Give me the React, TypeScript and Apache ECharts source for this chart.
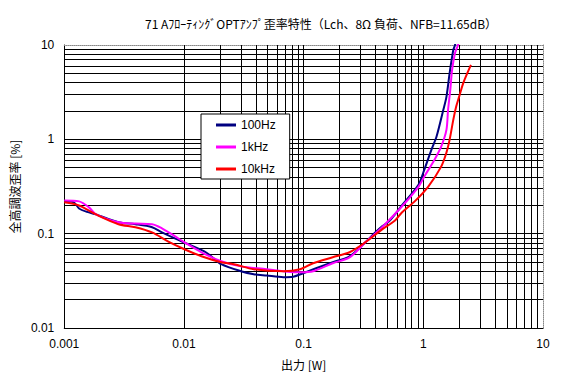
import React, { useEffect, useRef } from "react";
import * as echarts from "echarts";

const chartTitle = "71 AﾌﾛｰﾃｨﾝｸﾞOPTｱﾝﾌﾟ歪率特性（Lch、8Ω 負荷、NFB=11.65dB）";
const xName = "出力 [W]";
const yName = "全高調波歪率 [%]";
const seriesNames = ["100Hz", "1kHz", "10kHz"];
const seriesColors = ["#000080", "#FF00FF", "#FF0000"];

const power100 = [0.001, 0.0012, 0.00133, 0.00155, 0.00184, 0.00284, 0.00393, 0.00542, 0.00655, 0.00839, 0.0107, 0.0148, 0.0169, 0.0205, 0.0299, 0.0383, 0.0491, 0.0677, 0.0819, 0.099, 0.127, 0.175, 0.242, 0.328, 0.396, 0.453, 0.517, 0.662, 0.914, 1.0, 1.17, 1.29, 1.47, 1.56, 1.66, 1.78, 1.84, 1.87];
const thd100 = [0.22, 0.215, 0.185, 0.17, 0.16, 0.132, 0.126, 0.117, 0.103, 0.089, 0.078, 0.065, 0.0576, 0.0475, 0.04, 0.0372, 0.036, 0.0346, 0.035, 0.0381, 0.043, 0.0498, 0.0576, 0.0809, 0.103, 0.12, 0.135, 0.199, 0.332, 0.445, 0.778, 1.07, 2.06, 2.82, 5.06, 8.86, 10, 11];

const power1k = [0.001, 0.00133, 0.00161, 0.00184, 0.00284, 0.00393, 0.00542, 0.00655, 0.00839, 0.0101, 0.014, 0.0205, 0.0299, 0.0491, 0.0677, 0.0819, 0.0935, 0.12, 0.175, 0.242, 0.328, 0.396, 0.453, 0.662, 0.914, 1.02, 1.24, 1.41, 1.56, 1.61, 1.68, 1.74, 1.84, 1.95, 1.98];
const thd1k = [0.225, 0.22, 0.19, 0.16, 0.132, 0.128, 0.126, 0.114, 0.094, 0.081, 0.0635, 0.051, 0.045, 0.042, 0.04, 0.039, 0.039, 0.04, 0.0486, 0.056, 0.081, 0.1, 0.117, 0.194, 0.316, 0.404, 0.609, 0.838, 1.26, 2.06, 3.35, 5.45, 8.23, 10, 11];

const power10k = [0.001, 0.00133, 0.00184, 0.00284, 0.00393, 0.00542, 0.00734, 0.0101, 0.014, 0.0205, 0.0262, 0.0383, 0.0677, 0.0935, 0.12, 0.175, 0.242, 0.328, 0.453, 0.58, 0.662, 0.847, 1.1, 1.41, 1.56, 1.66, 1.78, 1.88, 1.99, 2.16, 2.5];
const thd10k = [0.215, 0.199, 0.16, 0.126, 0.117, 0.103, 0.083, 0.0684, 0.0576, 0.0498, 0.0475, 0.042, 0.04, 0.042, 0.0486, 0.0562, 0.0635, 0.081, 0.111, 0.138, 0.168, 0.22, 0.316, 0.514, 0.723, 0.993, 1.61, 2.21, 2.82, 3.97, 6.15];

const xDecades = [0.001, 0.01, 0.1, 1];
const yDecades = [0.01, 0.1, 1];
const gridSteps = [1, 2, 3, 4, 5, 6, 7, 8, 9];

const xMin = 0.001, xMax = 10, yMin = 0.01, yMax = 10;

function gridValues(decades: number[], min: number) {
  const out: number[] = [];
  decades.forEach((d) => gridSteps.forEach((m) => {
    const v = Number((d * m).toPrecision(3));
    if (v > min) out.push(v);
  }));
  return out;
}

const fmt = (v: number) => String(Number(Number(v).toPrecision(3)));

export default function App() {
  const ref = useRef<HTMLDivElement>(null);
  useEffect(() => {
    if (!ref.current) return;
    const chart = echarts.init(ref.current, undefined, { renderer: "svg" });
    const xs = gridValues(xDecades, xMin);
    const ys = gridValues(yDecades, yMin);
    const pairs = [
      [power100, thd100],
      [power1k, thd1k],
      [power10k, thd10k],
    ];
    const latin = "Liberation Sans";
    const cjk = "'Noto Sans CJK JP', sans-serif";
    chart.setOption({
      animation: false,
      backgroundColor: "#ffffff",
      title: {
        text: chartTitle,
        left: 140,
        top: 12,
        textStyle: { fontSize: 12, fontWeight: "normal", color: "#000", fontFamily: cjk },
      },
      legend: {
        orient: "vertical",
        left: 201,
        top: 114,
        z: 20,
        zlevel: 0,
        backgroundColor: "#fff",
        borderColor: "#000",
        borderWidth: 1,
        borderRadius: 0,
        padding: [5, 14, 4, 15],
        itemGap: 10,
        itemWidth: 20,
        itemHeight: 3,
        icon: "rect",
        data: seriesNames,
        textStyle: { fontSize: 12, color: "#000", fontFamily: latin, lineHeight: 12 },
      },
      grid: { left: 56, right: 24, top: 45, bottom: 51, containLabel: false },
      xAxis: [
        {
          type: "log",
          logBase: 10,
          min: xMin,
          max: xMax,
          position: "bottom",
          name: xName,
          nameLocation: "middle",
          nameGap: 30,
          nameTextStyle: { fontSize: 12, color: "#000", fontFamily: cjk },
          axisLine: { show: true, lineStyle: { color: "#000", width: 1 } },
          axisTick: { show: false },
          splitLine: { show: false },
          axisLabel: { fontSize: 12, color: "#000", fontFamily: latin, margin: 10, formatter: fmt },
        },
        {
          type: "log",
          logBase: 10,
          min: xMin,
          max: xMax,
          position: "top",
          axisLine: { show: true, lineStyle: { color: "#888", width: 1, type: [1, 1] } },
          axisTick: { show: false },
          axisLabel: { show: false },
          splitLine: { show: false },
        },
      ],
      yAxis: [
        {
          type: "log",
          logBase: 10,
          min: yMin,
          max: yMax,
          position: "left",
          name: yName,
          nameLocation: "middle",
          nameGap: 34,
          nameTextStyle: { fontSize: 12, color: "#000", fontFamily: cjk },
          axisLine: { show: true, lineStyle: { color: "#000", width: 1 } },
          axisTick: { show: false },
          splitLine: { show: false },
          axisLabel: { fontSize: 12, color: "#000", fontFamily: latin, margin: 10, formatter: fmt },
        },
        {
          type: "log",
          logBase: 10,
          min: yMin,
          max: yMax,
          position: "right",
          axisLine: { show: true, lineStyle: { color: "#888", width: 1, type: [1, 1] } },
          axisTick: { show: false },
          axisLabel: { show: false },
          splitLine: { show: false },
        },
      ],
      series: [
        {
          type: "line",
          name: "grid",
          data: [],
          silent: true,
          z: 1,
          markLine: {
            silent: true,
            z: 1,
            symbol: ["none", "none"],
            label: { show: false },
            emphasis: { disabled: true },
            lineStyle: { color: "#000", width: 1, type: "solid" },
            data: [
              ...xs.map((v) => ({ xAxis: v })),
              ...ys.map((v) => ({ yAxis: v })),
            ],
          },
        },
        ...pairs.map(([px, py], i) => ({
          type: "line",
          name: seriesNames[i],
          data: px.map((x, j) => [x, py[j]]),
          showSymbol: false,
          symbol: "none",
          smooth: 0.3,
          z: 5,
          color: seriesColors[i],
          lineStyle: { color: seriesColors[i], width: 2 },
        })),
      ],
    });
    return () => chart.dispose();
  }, []);
  return (
    <div
      ref={ref}
      style={{ position: "fixed", left: 0, top: 0, width: 567, height: 379, background: "#fff" }}
    />
  );
}
